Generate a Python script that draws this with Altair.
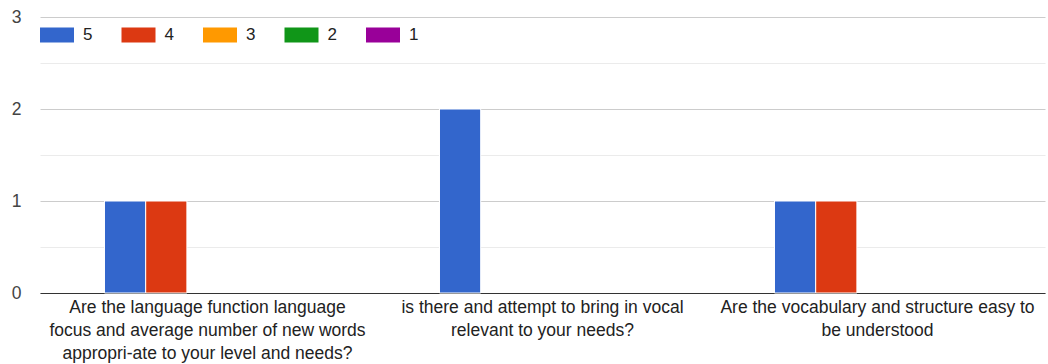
import altair as alt
import pandas as pd

categories = [
    "Are the language function language|focus and average number of new words|appropri-ate to your level and needs?",
    "is there and attempt to bring in vocal|relevant to your needs?",
    "Are the vocabulary and structure easy to|be understood",
]
ratings = ["5", "4", "3", "2", "1"]
values_5 = [1, 2, 1]
values_4 = [1, 0, 1]
values_3 = [0, 0, 0]
values_2 = [0, 0, 0]
values_1 = [0, 0, 0]
colors = ["#3366cc", "#dc3912", "#ff9900", "#109618", "#990099"]

series = {"5": values_5, "4": values_4, "3": values_3, "2": values_2, "1": values_1}
rows = []
for r in ratings:
    for c, v in zip(categories, series[r]):
        rows.append({"question": c, "rating": r, "count": v})
df = pd.DataFrame(rows)

font = "Liberation Sans"

bars = alt.Chart(df).mark_bar(stroke="white", strokeWidth=1).encode(
    x=alt.X(
        "question:N",
        sort=categories,
        title=None,
        scale=alt.Scale(paddingInner=0.385, paddingOuter=0.1925),
        axis=alt.Axis(
            labelAngle=0,
            labelExpr="split(datum.label, '|')",
            labelFont=font,
            labelFontSize=17.5,
            labelColor="#222222",
            labelLineHeight=23,
            labelPadding=5,
            labelLimit=500,
            ticks=False,
            domainColor="#333333",
            domainWidth=1,
            grid=False,
        ),
    ),
    xOffset=alt.XOffset("rating:N", sort=ratings, scale=alt.Scale(paddingInner=0, paddingOuter=0)),
    y=alt.Y(
        "count:Q",
        title=None,
        scale=alt.Scale(domain=[0, 3], nice=False),
        axis=alt.Axis(
            values=[0, 0.5, 1, 1.5, 2, 2.5, 3],
            labelExpr="datum.value % 1 == 0 ? format(datum.value, 'd') : ''",
            labelFont=font,
            labelFontSize=17.5,
            labelColor="#444444",
            labelPadding=19,
            ticks=False,
            domain=False,
            gridColor={"condition": {"test": "datum.value % 1 == 0", "value": "#cccccc"}, "value": "#ebebeb"},
            gridWidth=1,
        ),
    ),
    strokeOpacity=alt.condition("datum.count > 0", alt.value(1), alt.value(0)),
    color=alt.Color(
        "rating:N",
        sort=ratings,
        scale=alt.Scale(domain=ratings, range=colors),
        legend=alt.Legend(
            title=None,
            orient="none",
            legendX=0,
            legendY=1,
            direction="horizontal",
            columns=5,
            columnPadding=28.5,
            symbolType="M-1,-0.44L1,-0.44L1,0.44L-1,0.44Z",
            symbolSize=1156,
            symbolStrokeWidth=0,
            symbolOpacity=1,
            labelFont=font,
            labelFontSize=17,
            labelColor="#222222",
            labelOffset=9,
            padding=0,
        ),
    ),
)

chart = bars.properties(
    width=1005,
    height=276,
    padding={"left": 40, "top": 17, "right": 3, "bottom": 71},
    autosize=alt.AutoSizeParams(type="none"),
).configure_view(stroke=None)

chart.save("out.html", embed_options={"renderer": "svg", "actions": False})
